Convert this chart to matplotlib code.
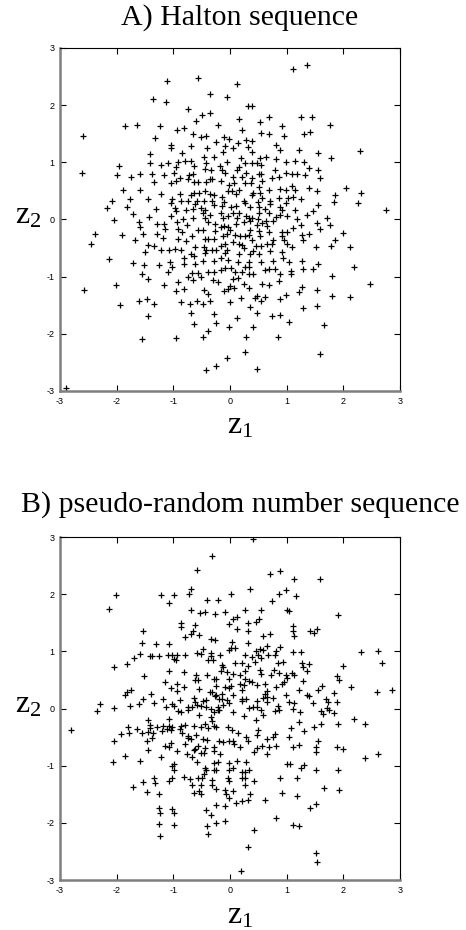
import matplotlib
matplotlib.use("Agg")
import matplotlib.pyplot as plt
import numpy as np

# ---------------- Data ----------------
# Panel A: Halton sequence (z1, z2)
halton_z1 = [
 -1.12,-0.56,-0.35,-0.05,-1.36,-1.13,-0.74,-0.49,-0.36,-0.60,-0.21,-1.85,-1.64,-1.24,-0.81,-0.94,-0.66,-0.52,-0.42,-0.10,
 -0.01,-2.59,-1.32,-1.05,-1.05,-0.69,-0.24,-0.41,-0.09,-1.42,-0.85,-0.13,-0.46,-0.28,-1.41,-1.22,-1.09,-0.91,-0.80,-0.69,
 -0.96,-0.64,-0.42,-0.05,-1.96,-0.17,-2.61,-2.00,-1.58,-1.74,-1.38,-1.16,-0.98,-0.72,-0.65,-0.45,-0.33,-0.14,-0.09,-1.04,
 -0.96,-0.89,-0.74,-0.63,-0.56,-0.42,-0.36,-0.32,-0.16,-1.35,-0.02,-1.89,-1.58,-1.21,-0.88,-0.69,-0.63,-0.55,-0.45,-0.36,
 -0.28,-0.15,-0.04,-2.08,-1.76,-1.45,-1.02,-0.86,-0.74,-0.58,-0.46,-0.31,-0.11,-0.61,-2.17,-1.82,-1.05,-1.31,-0.97,-0.78,
 -0.65,-0.52,-0.44,-0.29,-0.15,-1.72,-1.04,-0.95,-0.48,-0.35,-0.16,-0.13,-0.04,-1.43,-0.83,-0.65,-0.45,
 1.12,1.36,0.13,0.32,0.39,0.15,0.53,0.69,1.25,1.44,0.91,0.22,0.55,0.69,0.95,1.31,1.42,1.76,0.29,0.39,
 0.14,0.05,0.32,0.38,0.82,0.88,1.22,1.56,2.30,0.19,0.53,0.64,1.79,0.82,0.26,0.39,0.47,0.55,0.98,1.15,
 1.30,0.16,0.12,1.40,0.79,1.55,0.29,0.06,0.21,0.39,0.51,0.55,0.98,1.10,1.19,1.33,1.58,0.57,0.74,0.87,
 0.07,0.26,0.37,0.51,0.16,0.03,0.10,0.40,0.53,0.68,0.88,0.98,1.10,1.15,1.39,1.54,2.04,1.86,2.31,0.24,
 0.39,0.56,0.71,0.87,1.03,1.12,1.25,0.26,0.49,0.71,0.98,1.55,1.84,2.26,0.02,0.11,0.35,0.52,0.62,0.88,
 0.91,1.15,1.36,1.46,2.76,0.06,0.15,0.29,0.34,0.39,0.51,0.69,0.82,0.88,1.01,1.18,1.72,0.12,0.50,
 -2.04,-1.60,-2.38,-1.91,-1.59,-1.53,-1.28,-1.16,-1.15,-2.45,-1.68,-1.45,-1.34,-1.29,-1.18,-0.93,-0.92,-0.84,-0.76,-0.67,
 -0.92,-0.77,-0.56,-0.48,-0.45,-0.38,-0.29,-0.27,-0.16,-0.13,-0.05,-0.38,-0.27,-0.11,-0.04,-2.14,-1.72,-1.50,-1.22,-1.08,
 -0.97,-0.87,-0.62,-0.46,-0.42,-0.32,-0.24,-0.16,-0.09,-0.06,-1.52,-1.25,-1.06,-1.02,-0.82,-0.82,-0.69,-0.64,-0.62,-0.48,
 -0.44,-0.28,-0.16,-0.09,-0.04,-1.55,-1.45,-1.09,-0.91,-0.75,-0.67,-0.65,-0.56,-0.52,-0.39,-0.29,-0.30,-0.22,-0.16,-0.09,
 -2.57,-2.01,-1.16,-0.96,-0.81,-0.46,-0.39,-0.11,-0.04,-1.94,-1.60,-1.46,-1.35,-0.86,-0.71,-0.58,-0.47,-0.35,-1.45,-0.69,
 -0.29,-0.64,-0.24,-1.55,-0.96,-0.48,-0.39,-0.01,-0.06,-0.42,-0.25,-2.89,
 0.25,0.35,0.48,0.56,0.64,0.66,0.76,0.11,0.08,0.00,0.18,0.26,0.34,0.35,0.51,0.53,0.69,0.92,0.92,1.01,
 1.12,1.25,1.53,1.59,1.76,1.40,1.27,2.00,0.06,0.15,0.22,0.39,0.46,0.54,0.66,0.74,0.76,0.95,1.00,1.09,
 1.28,1.51,1.79,1.85,2.12,0.15,0.25,0.35,0.41,0.52,0.71,0.91,0.94,0.14,0.34,0.55,0.76,1.04,1.27,1.55,
 0.01,0.09,0.26,0.33,0.22,0.34,0.41,0.62,0.69,0.80,0.88,1.08,1.07,1.28,1.47,2.19,0.06,0.14,0.25,0.56,
 0.68,0.86,1.80,0.00,0.07,0.33,1.27,1.21,1.54,0.47,0.62,0.44,0.55,0.19,0.89,0.98,1.80,2.12,2.47,0.00,
 0.35,1.28,1.54,0.48,0.13,0.74,0.88,1.04,1.65,0.40,0.29,0.84,0.26,1.58,0.48,
]
halton_z2 = [
 2.42,2.47,2.20,2.14,2.11,2.05,1.93,1.82,1.87,1.73,1.66,1.63,1.65,1.64,1.60,1.56,1.49,1.45,1.46,1.44,
 1.40,1.46,1.42,1.30,1.25,1.29,1.35,1.25,1.29,1.15,1.16,1.18,1.09,1.09,0.98,0.96,0.98,1.01,1.02,1.02,
 0.92,0.93,0.99,1.00,0.93,0.94,0.82,0.78,0.80,0.75,0.80,0.78,0.81,0.77,0.80,0.88,0.87,0.86,0.81,0.64,
 0.68,0.72,0.71,0.65,0.65,0.66,0.70,0.71,0.68,0.66,0.61,0.51,0.51,0.44,0.44,0.42,0.46,0.46,0.49,0.45,
 0.42,0.39,0.49,0.33,0.35,0.36,0.35,0.32,0.33,0.33,0.33,0.33,0.30,0.27,0.20,0.22,0.28,0.18,0.20,0.16,
 0.19,0.20,0.17,0.26,0.24,0.10,0.06,0.14,0.11,0.08,0.11,0.03,0.06,0.04,0.01,0.02,0.02,
 2.64,2.70,2.37,1.98,1.99,1.76,1.71,1.80,1.80,1.79,1.63,1.57,1.51,1.49,1.46,1.50,1.53,1.65,1.39,1.38,
 1.33,1.25,1.26,1.18,1.30,1.21,1.21,1.17,1.19,1.08,1.08,1.10,1.08,1.05,0.99,0.98,0.98,0.95,1.00,1.03,
 1.01,0.92,0.87,0.90,0.86,0.86,0.81,0.75,0.74,0.73,0.80,0.80,0.81,0.80,0.80,0.77,0.73,0.68,0.72,0.74,
 0.64,0.63,0.63,0.57,0.51,0.50,0.44,0.47,0.47,0.51,0.54,0.52,0.58,0.51,0.55,0.49,0.55,0.43,0.46,0.33,
 0.43,0.37,0.33,0.38,0.37,0.39,0.35,0.29,0.30,0.27,0.29,0.26,0.30,0.29,0.22,0.23,0.22,0.21,0.19,0.22,
 0.16,0.16,0.08,0.14,0.16,0.12,0.12,0.06,0.03,0.02,0.11,0.12,0.04,0.08,0.06,0.01,0.03,0.03,0.01,
 -0.01,-0.05,-0.25,-0.27,-0.13,-0.25,-0.08,-0.08,-0.16,-0.43,-0.36,-0.44,-0.46,-0.26,-0.32,-0.04,-0.16,-0.22,-0.09,-0.28,
 -0.34,-0.37,-0.18,-0.18,-0.34,-0.34,-0.34,-0.20,-0.13,-0.28,-0.25,-0.04,-0.07,-0.12,-0.13,-0.69,-0.76,-0.57,-0.54,-0.54,
 -0.51,-0.53,-0.48,-0.48,-0.54,-0.54,-0.54,-0.47,-0.42,-0.54,-0.80,-0.80,-0.74,-0.83,-0.68,-0.78,-0.61,-0.64,-0.78,-0.73,
 -0.58,-0.73,-0.67,-0.58,-0.70,-0.96,-1.04,-0.92,-1.09,-1.01,-0.94,-1.06,-0.94,-1.01,-0.91,-0.91,-1.05,-1.09,-0.89,-0.84,
 -1.24,-1.15,-1.15,-1.25,-1.22,-1.24,-1.30,-1.25,-1.22,-1.50,-1.42,-1.39,-1.47,-1.45,-1.47,-1.42,-1.47,-1.42,-1.69,-1.64,
 -1.65,-1.83,-1.81,-2.09,-2.07,-2.05,-1.95,-1.88,-2.43,-2.63,-2.57,-2.94,
 -0.04,-0.02,-0.09,-0.06,-0.02,-0.11,-0.03,-0.08,-0.27,-0.18,-0.29,-0.28,-0.27,-0.18,-0.20,-0.29,-0.21,-0.22,-0.29,-0.21,
 -0.14,-0.09,-0.06,-0.16,-0.09,-0.25,-0.27,-0.23,-0.39,-0.42,-0.44,-0.36,-0.46,-0.46,-0.43,-0.43,-0.35,-0.35,-0.43,-0.48,
 -0.36,-0.48,-0.47,-0.35,-0.48,-0.61,-0.50,-0.61,-0.55,-0.61,-0.55,-0.56,-0.68,-0.75,-0.74,-0.74,-0.72,-0.74,-0.73,-0.78,
 -0.84,-0.91,-0.83,-0.83,-0.92,-0.95,-0.95,-0.89,-0.87,-0.87,-0.95,-0.90,-0.95,-0.86,-0.87,-0.83,-1.04,-1.02,-1.12,-1.12,
 -1.15,-1.07,-0.98,-1.17,-1.20,-1.20,-1.18,-1.27,-1.23,-1.33,-1.36,-1.38,-1.43,-1.37,-1.39,-1.32,-1.33,-1.36,-1.13,-1.45,
 -1.53,-1.55,-1.51,-1.64,-1.73,-1.68,-1.67,-1.80,-1.85,-1.88,-2.05,-2.06,-2.31,-2.35,-2.61,
]

# Panel B: pseudo-random number sequence (z1, z2)
prng_z1 = [
 -0.32,
 -0.58,-0.68,-2.02,-2.14,-1.21,-1.08,-0.98,-0.72,-0.40,-0.22,-0.69,-0.53,-0.44,-0.27,-0.08,-0.86,-0.87,-0.62,-0.66,-0.68,
 -0.54,-0.80,-0.02,-1.54,-1.56,-1.31,-1.07,-0.34,-0.27,-0.47,-1.58,-1.69,-1.42,-1.38,-1.25,-1.09,-1.02,-0.94,-0.98,-0.96,
 -0.79,-0.58,-0.51,-0.34,-0.33,-0.38,-0.30,-0.18,-0.02,-2.05,-1.81,-0.15,-0.13,-1.51,-1.08,-0.81,-0.60,-0.62,-0.56,-0.40,
 -0.29,-0.24,-0.16,-0.06,-0.02,-1.86,-1.82,-1.75,-1.14,-0.93,-1.05,-0.94,-0.82,-0.54,-0.36,-0.31,-0.24,-0.09,-0.02,-1.54,
 -1.40,-1.18,-0.88,-0.64,-0.61,-0.47,-0.42,-0.27,-0.19,-0.14,-0.24,-0.15,-0.06,-2.29,-2.34,-2.04,-1.77,-1.61,-1.35,-1.13,
 -1.02,-0.99,-0.92,-0.87,-0.75,-0.75,-0.67,-0.59,-0.51,-0.42,-0.33,-0.29,-0.22,-0.19,-0.12,-0.01,-0.54,-0.34,-0.32,-0.22,
 -1.08,-1.44,-1.41,-1.41,-1.29,-1.18,-1.07,-1.02,-0.87,-0.80,-0.64,-0.51,-0.45,-0.38,-0.28,-0.24,-2.80,-1.80,-1.79,-1.92,
 -1.65,-1.56,-1.44,-1.36,-1.20,-1.11,-1.04,-0.88,-0.84,-0.75,-0.60,-0.04,
 0.40,0.71,0.89,1.13,1.59,0.35,0.99,0.87,0.74,1.16,0.01,0.26,0.54,1.01,1.04,1.91,0.05,0.12,0.32,0.45,
 0.52,0.12,0.31,1.11,1.12,1.41,1.49,1.54,0.59,0.71,1.13,0.03,0.31,0.02,0.09,0.45,0.53,0.59,0.65,0.88,
 0.82,1.11,1.26,2.32,2.62,0.26,0.39,0.49,0.44,0.54,0.67,0.80,0.85,0.94,0.08,0.22,0.31,1.27,1.40,1.28,
 2.00,2.69,0.06,0.18,0.27,0.26,0.53,0.55,0.73,0.78,0.86,0.99,1.01,1.09,1.13,1.35,1.89,1.92,0.02,0.18,
 0.24,0.34,0.39,0.48,0.61,0.81,0.92,0.96,1.29,1.62,1.56,2.14,1.22,1.35,1.39,1.84,2.60,2.85,0.05,0.21,
 0.22,0.65,0.61,0.59,0.66,0.76,0.98,0.21,0.28,0.47,0.66,0.84,1.04,1.13,1.47,1.69,1.73,1.88,0.05,0.34,
 0.40,0.47,0.55,0.59,0.80,0.86,1.11,1.24,1.60,1.64,1.71,1.75,1.84,0.24,0.45,1.21,2.19,2.38,1.07,1.31,
 1.49,1.61,1.91,0.04,0.14,0.49,0.47,0.29,0.76,0.80,1.04,
 -2.04,-1.47,-1.38,-1.14,-1.08,-1.04,-0.94,-0.79,-0.75,-0.68,-0.76,-0.67,-0.64,-0.56,-0.61,-0.48,-0.41,-0.45,-0.51,-0.46,
 -0.29,-0.29,-0.19,-0.18,-0.13,-0.01,-2.07,-1.85,-1.59,-1.45,-1.21,-0.98,-1.02,-0.99,-0.59,-0.45,-0.42,-0.29,-0.22,-0.29,
 -0.24,-0.01,-0.02,-1.71,-1.53,-1.46,-1.35,-1.32,-1.25,-1.07,-1.02,-0.81,-0.71,-0.67,-0.64,-0.56,-0.52,-0.54,-0.51,-0.49,
 -0.46,-0.31,-0.31,-0.24,-0.09,-0.04,-0.02,-0.02,-0.24,-0.09,-1.26,-1.24,-1.02,-0.99,-1.25,-0.98,-1.24,-0.42,-0.33,-0.40,
 -0.39,-0.25,-0.09,-0.07,
 0.05,0.07,0.31,0.18,0.47,0.42,0.56,0.65,0.68,0.66,0.82,1.12,1.21,1.56,1.52,1.51,1.88,2.00,2.38,2.62,
 0.12,0.28,0.06,0.22,0.26,0.33,0.21,0.27,0.42,1.00,1.05,1.31,1.25,1.52,1.91,0.89,1.18,0.26,0.06,0.35,
 0.21,0.31,0.11,0.61,0.91,1.19,1.65,1.93,1.42,1.51,0.82,1.11,1.22,0.42,0.31,1.52,1.54,0.20,
]
prng_z2 = [
 2.66,
 2.43,2.09,1.98,1.74,1.98,1.84,1.99,2.00,1.89,1.89,1.72,1.67,1.68,1.65,1.68,1.50,1.42,1.46,1.36,1.31,
 1.29,1.25,1.47,1.35,1.15,1.12,1.12,1.22,1.20,1.04,0.96,0.89,0.91,0.92,0.91,0.93,0.94,0.94,0.87,0.84,
 0.94,0.97,0.96,0.97,0.91,0.85,0.84,0.93,1.03,0.73,0.78,0.76,0.73,0.56,0.65,0.64,0.59,0.50,0.50,0.59,
 0.52,0.52,0.66,0.64,0.52,0.23,0.29,0.33,0.47,0.43,0.36,0.30,0.37,0.34,0.29,0.29,0.40,0.38,0.35,0.17,
 0.25,0.16,0.15,0.19,0.12,0.13,0.15,0.22,0.16,0.16,0.23,0.26,0.15,0.08,-0.05,0.01,0.04,0.07,0.09,0.03,
 0.07,0.05,-0.05,-0.06,0.03,-0.02,0.02,0.06,0.04,0.02,0.00,-0.06,0.02,-0.02,0.06,0.09,-0.12,-0.15,-0.21,-0.03,
 -0.19,-0.20,-0.28,-0.34,-0.33,-0.30,-0.30,-0.33,-0.30,-0.29,-0.30,-0.33,-0.27,-0.34,-0.31,-0.33,-0.38,-0.32,-0.43,-0.45,
 -0.35,-0.42,-0.41,-0.42,-0.40,-0.36,-0.37,-0.35,-0.42,-0.48,-0.47,-0.33,
 2.97,2.35,2.41,2.27,2.26,2.09,2.08,2.00,1.88,1.96,2.00,1.72,1.73,1.73,1.70,1.63,1.57,1.60,1.49,1.51,
 1.56,1.39,1.36,1.44,1.36,1.35,1.32,1.39,1.26,1.30,1.26,1.16,1.15,1.05,1.05,1.01,1.04,1.03,1.10,1.07,
 1.00,0.99,0.99,0.98,1.01,0.93,0.90,0.93,0.81,0.88,0.93,0.93,0.80,0.81,0.79,0.80,0.74,0.80,0.78,0.72,
 0.74,0.80,0.60,0.58,0.66,0.52,0.67,0.60,0.59,0.68,0.62,0.58,0.53,0.62,0.58,0.66,0.57,0.50,0.39,0.43,
 0.41,0.48,0.46,0.41,0.43,0.38,0.43,0.46,0.48,0.39,0.32,0.38,0.32,0.24,0.22,0.27,0.29,0.32,0.23,0.33,
 0.17,0.31,0.26,0.18,0.20,0.18,0.24,0.13,0.17,0.13,0.11,0.04,0.12,0.10,0.10,0.16,0.12,0.12,-0.06,0.01,
 0.02,0.02,-0.03,-0.12,-0.04,-0.03,-0.01,-0.06,-0.05,-0.10,0.01,-0.03,-0.08,-0.13,-0.20,-0.24,-0.18,-0.27,-0.34,-0.40,
 -0.33,-0.27,-0.27,-0.38,-0.42,-0.38,-0.46,-0.50,-0.50,-0.45,-0.50,
 -0.57,-0.56,-0.52,-0.66,-0.68,-0.60,-0.75,-0.62,-0.52,-0.54,-0.80,-0.85,-0.72,-0.66,-0.70,-0.54,-0.55,-0.69,-0.78,-0.78,
 -0.68,-0.75,-0.56,-0.79,-0.59,-0.56,-0.94,-0.83,-0.91,-0.72,-0.85,-0.97,-1.00,-1.07,-0.94,-1.04,-1.07,-0.95,-0.94,-1.07,
 -1.07,-0.95,-1.08,-1.37,-1.28,-1.46,-1.21,-1.31,-1.50,-1.26,-1.21,-1.20,-1.24,-1.33,-1.47,-1.22,-1.34,-1.45,-1.49,-1.22,
 -1.14,-1.25,-1.33,-1.40,-1.43,-1.21,-1.26,-1.57,-1.69,-1.70,-1.74,-1.82,-1.75,-1.83,-2.02,-2.04,-2.23,-1.78,-1.87,-2.06,
 -2.19,-2.01,-1.97,-1.49,
 -0.57,-0.62,-0.57,-0.67,-0.69,-0.76,-0.65,-0.54,-0.68,-0.79,-0.66,-0.68,-0.63,-0.56,-0.67,-0.76,-0.68,-0.71,-0.87,-0.79,
 -0.91,-0.94,-1.04,-1.11,-1.11,-1.08,-1.22,-1.21,-1.26,-0.97,-0.97,-0.99,-1.04,-1.08,-1.08,-1.22,-1.22,-1.34,-1.45,-1.49,
 -1.61,-1.60,-1.66,-1.60,-1.47,-1.53,-1.39,-1.42,-1.74,-1.67,-1.92,-2.04,-2.05,-2.12,-2.42,-2.53,-2.68,-2.84,
]

panel_titles = ["A) Halton sequence", "B) pseudo-random number sequence"]
tick_values = [-3, -2, -1, 0, 1, 2, 3]

# ---------------- Figure ----------------
plt.rcParams['mathtext.fontset'] = 'custom'
plt.rcParams['mathtext.rm'] = 'Liberation Serif'
plt.rcParams['mathtext.it'] = 'Liberation Serif:italic'

W, H = 466, 930
fig = plt.figure(figsize=(W / 100, H / 100), dpi=100)

def px_rect(left, top, right, bottom):
    return [left / W, 1 - bottom / H, (right - left) / W, (bottom - top) / H]

axes_rects = [px_rect(60, 48, 400, 391), px_rect(60, 537, 400, 880)]
datasets = [(halton_z1, halton_z2), (prng_z1, prng_z2)]
title_y = [18, 505]

for i, (ax_rect, (xs, ys)) in enumerate(zip(axes_rects, datasets)):
    ax = fig.add_axes(ax_rect)
    ax.plot(xs, ys, linestyle='none', marker='+', color='black',
            markersize=4.6, markeredgewidth=0.9)
    ax.set_xlim(-3, 3)
    ax.set_ylim(-3, 3)
    ax.set_xticks(tick_values)
    ax.set_yticks(tick_values)
    ax.set_xticklabels([str(v) for v in tick_values])
    ax.set_yticklabels([str(v) for v in tick_values])
    ax.tick_params(direction='in', top=True, right=True, length=4, width=0.8,
                   labelsize=6.5, pad=4)
    for lab in ax.get_xticklabels() + ax.get_yticklabels():
        lab.set_fontfamily('Liberation Sans')
    for side in ('left', 'bottom'):
        ax.spines[side].set_color('#7f7f7f')
        ax.spines[side].set_linewidth(1.8)
    for side in ('top', 'right'):
        ax.spines[side].set_color('black')
        ax.spines[side].set_linewidth(0.8)

    top_px = ax_rect_top = (1 - (ax_rect[1] + ax_rect[3])) * H
    off = top_px - 48
    fig.text(240 / W, 1 - title_y[i] / H, panel_titles[i], ha='center', va='center',
             fontfamily='Liberation Serif', fontsize=21.5)
    fig.text(227 / W, 1 - (434 + off) / H, r'$\mathrm{z}_{1}$', ha='left', va='baseline',
             fontsize=23)
    fig.text(15 / W, 1 - (223 + off) / H, r'$\mathrm{z}_{2}$', ha='left', va='baseline',
             fontsize=23)

fig.savefig('out.png', dpi=100)
